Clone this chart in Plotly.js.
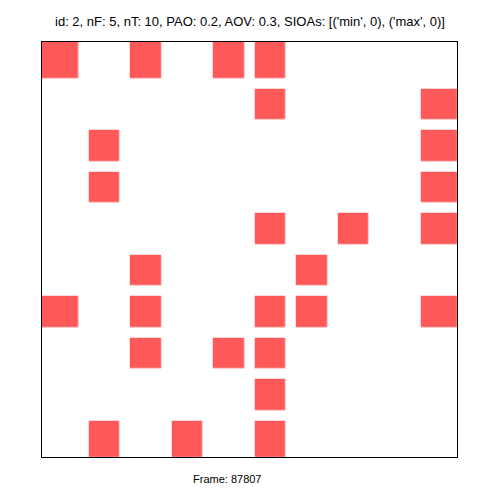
<!DOCTYPE html>
<html>
<head>
<meta charset="utf-8">
<script src="https://cdn.plot.ly/plotly-3.0.1.min.js"></script>
<style>html,body{margin:0;padding:0;background:#fff;}#chart{width:500px;height:500px;}</style>
</head>
<body>
<div id="chart"></div>
<script>
// Grid columns / rows (0..9)
const columns = [0, 1, 2, 3, 4, 5, 6, 7, 8, 9];
const rows = [0, 1, 2, 3, 4, 5, 6, 7, 8, 9];
// Active cells per row (1 = red, 0 = empty)
const row0 = [1, 0, 1, 0, 1, 1, 0, 0, 0, 0];
const row1 = [0, 0, 0, 0, 0, 1, 0, 0, 0, 1];
const row2 = [0, 1, 0, 0, 0, 0, 0, 0, 0, 1];
const row3 = [0, 1, 0, 0, 0, 0, 0, 0, 0, 1];
const row4 = [0, 0, 0, 0, 0, 1, 0, 1, 0, 1];
const row5 = [0, 0, 1, 0, 0, 0, 1, 0, 0, 0];
const row6 = [1, 0, 1, 0, 0, 1, 1, 0, 0, 1];
const row7 = [0, 0, 1, 0, 1, 1, 0, 0, 0, 0];
const row8 = [0, 0, 0, 0, 0, 1, 0, 0, 0, 0];
const row9 = [0, 1, 0, 1, 0, 1, 0, 0, 0, 0];
const titleText = "id: 2, nF: 5, nT: 10, PAO: 0.2, AOV: 0.3, SIOAs: [('min', 0), ('max', 0)]";
const xTitleText = "Frame: 87807";

const zRows = [row0, row1, row2, row3, row4, row5, row6, row7, row8, row9];
const z = zRows.map(r => r.map(v => v ? 1 : null));

// gap in pixels and its half in data units (cell = 41.5 px); outer cells reach the frame
const gapPx = 10.6;
const halfGap = (gapPx / 2) / 41.5;
function edges(vals) {
  const e = vals.map(v => v - 0.5);
  e.push(vals[vals.length - 1] + 0.5);
  e[0] -= halfGap;
  e[e.length - 1] += halfGap;
  return e;
}

const trace = {
  type: 'heatmap',
  x: edges(columns),
  y: edges(rows),
  z: z,
  colorscale: [[0, 'rgb(255,88,88)'], [1, 'rgb(255,88,88)']],
  zmin: 0, zmax: 1,
  showscale: false,
  xgap: gapPx,
  ygap: gapPx,
  hoverinfo: 'none'
};

const layout = {
  width: 500, height: 500,
  margin: {l: 42, r: 43, t: 42, b: 43, pad: 0},
  paper_bgcolor: 'white',
  plot_bgcolor: 'white',
  font: {family: 'Liberation Sans, Arial, sans-serif', color: 'black'},
  title: {text: titleText, font: {size: 13, family: 'Liberation Sans, Arial, sans-serif'}, x: 0.5, xanchor: 'center', y: 0.958, yanchor: 'middle'},
  xaxis: {range: [-0.5, 9.5], showticklabels: false, ticks: '', showgrid: false, zeroline: false,
          showline: true, mirror: true, linecolor: 'black', linewidth: 1, fixedrange: true},
  yaxis: {range: [9.5, -0.5], showticklabels: false, ticks: '', showgrid: false, zeroline: false,
          showline: true, mirror: true, linecolor: 'black', linewidth: 1, fixedrange: true},
  annotations: [{text: xTitleText, xref: 'paper', yref: 'paper', x: 0.446, y: -0.033, xanchor: 'center', yanchor: 'top',
                 showarrow: false, font: {size: 11, family: 'Liberation Sans, Arial, sans-serif'}}]
};

Plotly.newPlot('chart', [trace], layout, {staticPlot: true, displayModeBar: false});
</script>
</body>
</html>
